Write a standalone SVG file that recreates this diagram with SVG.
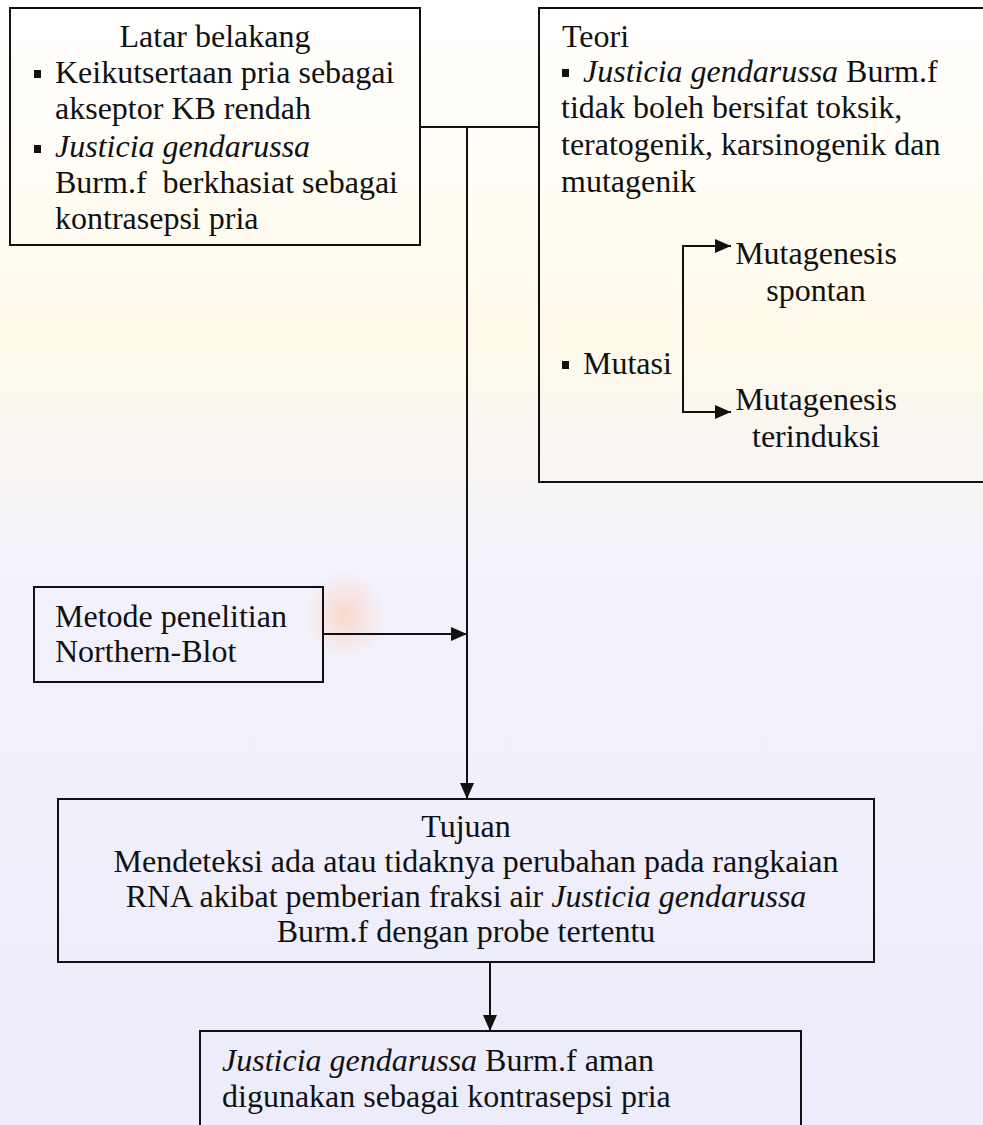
<svg xmlns="http://www.w3.org/2000/svg" width="983" height="1125" viewBox="0 0 983 1125" font-family="Liberation Serif, Times New Roman, DejaVu Serif, serif" font-size="32">
<style>
text{font-family:'Liberation Serif','Times New Roman','DejaVu Serif',serif;font-size:32px;fill:#111;}
.c{text-anchor:middle;}
.i{font-style:italic;}
.box{fill:none;stroke:#111;stroke-width:2;}
.ln{fill:none;stroke:#111;stroke-width:2;}
.bul{fill:#111;}
</style>
<defs>
<marker id="ah" viewBox="0 0 16 14" refX="16" refY="7" markerWidth="16" markerHeight="14" markerUnits="userSpaceOnUse" orient="auto">
<path d="M0,0 L16,7 L0,14 Z" fill="#111"/>
</marker>
<linearGradient id="bg" x1="0" y1="0" x2="0" y2="1">
<stop offset="0" stop-color="#ffffff"/>
<stop offset="0.3" stop-color="#fffaea"/>
<stop offset="0.5" stop-color="#f4f2fb"/>
<stop offset="1" stop-color="#ececfa"/>
</linearGradient>
<radialGradient id="blob">
<stop offset="0" stop-color="#fbd3c4" stop-opacity="0.8"/>
<stop offset="1" stop-color="#fbd3c4" stop-opacity="0"/>
</radialGradient>
</defs>
<rect x="0" y="0" width="983" height="1125" fill="url(#bg)"/>
<ellipse cx="345" cy="615" rx="40" ry="45" fill="url(#blob)"/>

<g id="latar">
<rect class="box" x="10" y="8" width="410" height="237"/>
<text class="c" x="215" y="47">Latar belakang</text>
<rect class="bul" x="34" y="70" width="7" height="8"/>
<text x="55" y="83">Keikutsertaan pria sebagai</text>
<text x="55" y="119">akseptor KB rendah</text>
<rect class="bul" x="34" y="145" width="7" height="8"/>
<text class="i" x="55" y="157">Justicia gendarussa</text>
<text x="55" y="193" xml:space="preserve">Burm.f  berkhasiat sebagai</text>
<text x="55" y="229">kontrasepsi pria</text>
</g>

<g id="teori">
<path class="box" d="M990,8 H539 V482 H990"/>
<text x="562" y="47">Teori</text>
<rect class="bul" x="562" y="69" width="7" height="8"/>
<text x="583" y="82"><tspan class="i">Justicia gendarussa</tspan> Burm.f</text>
<text x="561" y="118">tidak boleh bersifat toksik,</text>
<text x="561" y="155">teratogenik, karsinogenik dan</text>
<text x="561" y="192">mutagenik</text>
<rect class="bul" x="562" y="361" width="7" height="8"/>
<text x="583" y="374">Mutasi</text>
<text class="c" x="816" y="264">Mutagenesis</text>
<text class="c" x="816" y="301">spontan</text>
<text class="c" x="816" y="410">Mutagenesis</text>
<text class="c" x="816" y="447">terinduksi</text>
</g>

<g id="metode">
<rect class="box" x="34" y="587" width="289" height="95"/>
<text x="55" y="627">Metode penelitian</text>
<text x="55" y="662">Northern-Blot</text>
</g>

<g id="tujuan">
<rect class="box" x="58" y="799" width="816" height="163"/>
<text class="c" x="466" y="837">Tujuan</text>
<text class="c" x="476" y="872">Mendeteksi ada atau tidaknya perubahan pada rangkaian</text>
<text class="c" x="466" y="907">RNA akibat pemberian fraksi air <tspan class="i">Justicia gendarussa</tspan></text>
<text class="c" x="466" y="942">Burm.f dengan probe tertentu</text>
</g>

<g id="hasil">
<path class="box" d="M200,1130 V1031 H801 V1130"/>
<text x="222" y="1071"><tspan class="i">Justicia gendarussa</tspan> Burm.f aman</text>
<text x="222" y="1107">digunakan sebagai kontrasepsi pria</text>
</g>

<g id="connectors">
<path class="ln" d="M420,127 H539"/>
<path class="ln" d="M467,127 V799" marker-end="url(#ah)"/>
<path class="ln" d="M323,634 H467" marker-end="url(#ah)"/>
<path class="ln" d="M731,246 H683 V412 H731" marker-end="url(#ah)"/>
<path class="ln" d="M683,246 H731" marker-end="url(#ah)"/>
<path class="ln" d="M490,962 V1031" marker-end="url(#ah)"/>
</g>
</svg>
